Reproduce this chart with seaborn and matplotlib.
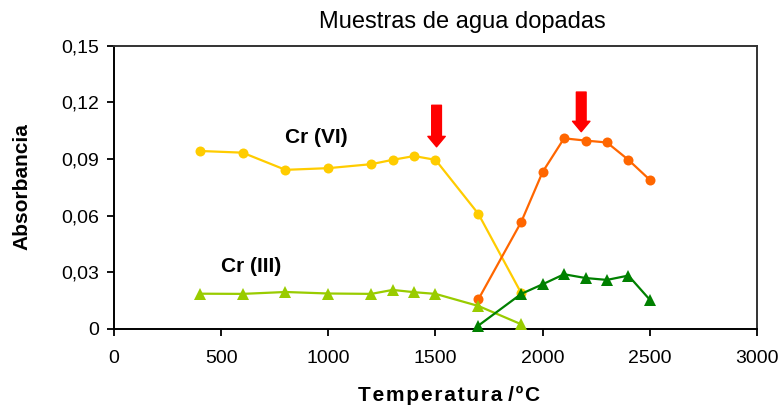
import matplotlib
matplotlib.use("Agg")
import matplotlib.pyplot as plt
import seaborn as sns
import pandas as pd

# Absorbance vs. temperature for doped water samples
temp_vi_a = [400, 600, 800, 1000, 1200, 1300, 1400, 1500, 1700, 1900]
abs_vi_a = [0.0943, 0.0934, 0.0843, 0.0852, 0.0873, 0.0896, 0.0916, 0.0896, 0.0610, 0.0190]

temp_vi_b = [1700, 1900, 2000, 2100, 2200, 2300, 2400, 2500]
abs_vi_b = [0.0157, 0.0567, 0.0832, 0.1010, 0.0998, 0.0988, 0.0896, 0.0790]

temp_iii_a = [400, 600, 800, 1000, 1200, 1300, 1400, 1500, 1700, 1900]
abs_iii_a = [0.0187, 0.0186, 0.0196, 0.0188, 0.0186, 0.0207, 0.0195, 0.0186, 0.0122, 0.0025]

temp_iii_b = [1700, 1900, 2000, 2100, 2200, 2300, 2400, 2500]
abs_iii_b = [0.0018, 0.0186, 0.0237, 0.0290, 0.0270, 0.0260, 0.0283, 0.0155]

x_ticks = [0, 500, 1000, 1500, 2000, 2500, 3000]
y_ticks = [0, 0.03, 0.06, 0.09, 0.12, 0.15]
y_tick_labels = ["0", "0,03", "0,06", "0,09", "0,12", "0,15"]

# Optimum-temperature markers (arrow x, arrow top, arrow tip)
arrow_x = [1505, 2180]
arrow_top = [0.1185, 0.1255]
arrow_tip = [0.0965, 0.1045]

sns.set_style("white")
plt.rcParams["font.family"] = ["Liberation Sans", "DejaVu Sans"]
plt.rcParams["text.color"] = "black"
plt.rcParams["axes.labelcolor"] = "black"
plt.rcParams["xtick.color"] = "black"
plt.rcParams["ytick.color"] = "black"

fig = plt.figure(figsize=(7.82, 4.09), dpi=100)
ax = fig.add_axes([0.1458, 0.1956, 0.968 - 0.1458, 0.888 - 0.1956])

series = [
    (temp_vi_a, abs_vi_a, "#FFCC00", "o"),
    (temp_vi_b, abs_vi_b, "#FF6600", "o"),
    (temp_iii_a, abs_iii_a, "#99CC00", "^"),
    (temp_iii_b, abs_iii_b, "#008000", "^"),
]
for t, a, color, marker in series:
    df = pd.DataFrame({"Temperatura": t, "Absorbancia": a})
    sns.lineplot(data=df, x="Temperatura", y="Absorbancia", ax=ax, color=color,
                 marker=marker, markersize=8 if marker == "^" else 7.2,
                 markeredgewidth=0, linewidth=1.6, clip_on=False, zorder=3)

for x, top, tip in zip(arrow_x, arrow_top, arrow_tip):
    ax.annotate("", xy=(x, tip), xytext=(x, top),
                arrowprops=dict(arrowstyle="simple,head_width=1.25,head_length=0.75,tail_width=0.7",
                                color="#FF0000", shrinkA=0, shrinkB=0, mutation_scale=10),
                zorder=4)

ax.text(944, 0.1015, "Cr (VI)", fontsize=15, fontweight="bold", ha="center", va="center")
ax.text(639, 0.0330, "Cr (III)", fontsize=15, fontweight="bold", ha="center", va="center")

ax.set_xlim(0, 3000)
ax.set_ylim(0, 0.15)
ax.set_xticks(x_ticks)
ax.set_xticklabels([str(v) for v in x_ticks])
ax.set_yticks(y_ticks)
ax.set_yticklabels(y_tick_labels)
ax.tick_params(axis="both", which="both", direction="out", length=5, width=1.3,
               color="black", labelcolor="black", labelsize=14, pad=6, bottom=True, left=True)
ax.tick_params(axis="x", pad=10)

for side in ["left", "bottom", "top", "right"]:
    ax.spines[side].set_visible(True)
    ax.spines[side].set_color("black")
    ax.spines[side].set_linewidth(1.4)
for side in ["top", "right"]:
    ax.spines[side].set_color("#333333")

ax.set_xlabel("")
ax.set_ylabel("")
fig.text(449 / 782, 1 - 395 / 409, "T e m p e r a t u r a  / º C".replace(" ", "\u200a").replace("\u200a\u200a", " "),
         fontsize=15, fontweight="bold", ha="center", va="center")
fig.text(22 / 782, 1 - 187 / 409, "Absorbancia", fontsize=15, fontweight="bold",
         rotation=90, ha="center", va="center")
fig.text(462 / 782, 1 - 22 / 409, "Muestras de agua dopadas", fontsize=17,
         ha="center", va="center")

fig.savefig("out.png", dpi=100)
